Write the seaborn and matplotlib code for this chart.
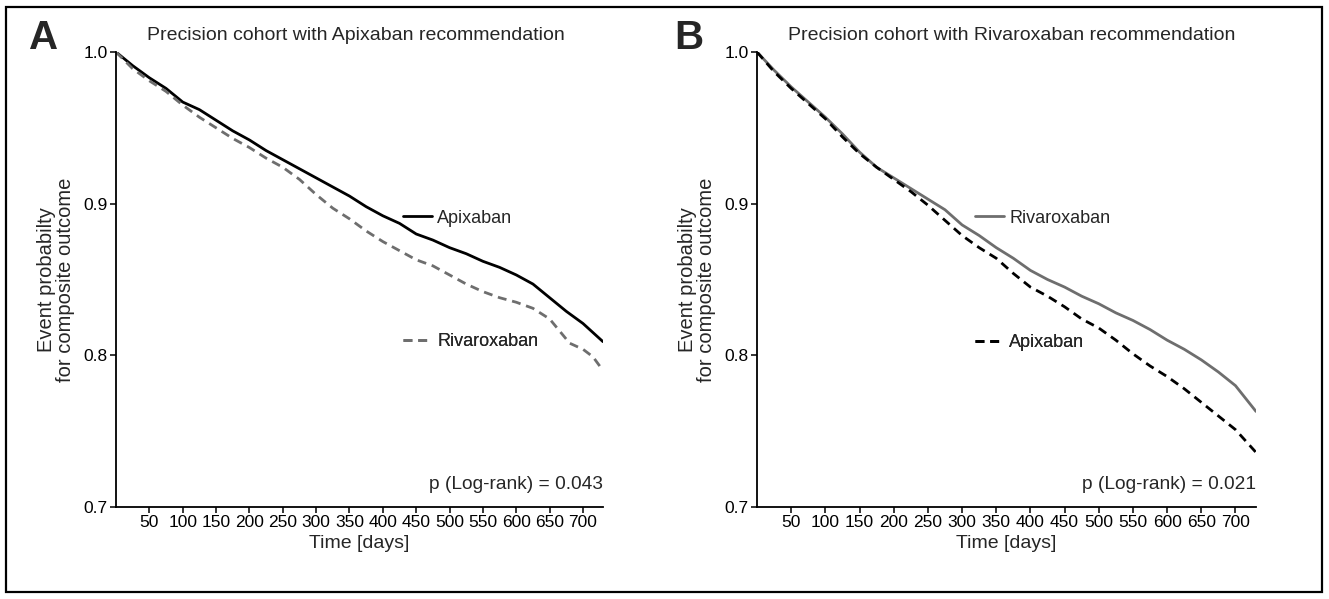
import pandas as pd
import seaborn as sns
import matplotlib.pyplot as plt
from matplotlib.lines import Line2D
from matplotlib.patches import Rectangle

# Kaplan-Meier style curves (days, event-free probability)
days = [0, 25, 50, 75, 100, 125, 150, 175, 200, 225, 250, 275, 300, 325, 350,
        375, 400, 425, 450, 475, 500, 525, 550, 575, 600, 625, 650, 675, 700, 730]

# Panel A: precision cohort with Apixaban recommendation
a_apixaban = [1.000, 0.991, 0.983, 0.976, 0.967, 0.962, 0.955, 0.948, 0.942, 0.935,
              0.929, 0.923, 0.917, 0.911, 0.905, 0.898, 0.892, 0.887, 0.880, 0.876,
              0.871, 0.867, 0.862, 0.858, 0.853, 0.847, 0.838, 0.829, 0.821, 0.809]
a_riva_days = [0, 25, 50, 75, 100, 125, 150, 175, 200, 225, 250, 275, 300, 325, 350,
               375, 400, 425, 450, 475, 500, 525, 550, 575, 600, 625, 650, 665, 680,
               700, 715, 730]
a_rivaroxaban = [1.000, 0.989, 0.981, 0.974, 0.965, 0.957, 0.950, 0.943, 0.937, 0.930,
                 0.924, 0.916, 0.906, 0.897, 0.890, 0.882, 0.875, 0.869, 0.863, 0.859,
                 0.853, 0.847, 0.842, 0.838, 0.835, 0.831, 0.824, 0.816, 0.808, 0.804,
                 0.799, 0.790]

# Panel B: precision cohort with Rivaroxaban recommendation
b_rivaroxaban = [1.000, 0.988, 0.977, 0.967, 0.957, 0.946, 0.934, 0.924, 0.917, 0.910,
                 0.903, 0.896, 0.886, 0.879, 0.871, 0.864, 0.856, 0.850, 0.845, 0.839,
                 0.834, 0.828, 0.823, 0.817, 0.810, 0.804, 0.797, 0.789, 0.780, 0.763]
b_apixaban = [1.000, 0.987, 0.976, 0.966, 0.956, 0.944, 0.933, 0.924, 0.916, 0.908,
              0.899, 0.889, 0.879, 0.871, 0.864, 0.854, 0.845, 0.839, 0.832, 0.824,
              0.818, 0.810, 0.801, 0.793, 0.786, 0.778, 0.769, 0.760, 0.751, 0.736]

x_ticks = list(range(50, 701, 50))
y_ticks = [0.7, 0.8, 0.9, 1.0]
y_ticklabels = ["0.7", "0.8", "0.9", "1.0"]

p_values = ["0.043", "0.021"]
titles = ["Precision cohort with Apixaban recommendation",
          "Precision cohort with Rivaroxaban recommendation"]

sns.set_style("ticks")
plt.rcParams['font.family'] = ['Liberation Sans', 'DejaVu Sans']

BLACK = "#000000"
GREY = "#6e6e6e"
DASH = (3.2, 2.1)

fig = plt.figure(figsize=(13.29, 5.99), dpi=100)
W, H = 1329, 599


def px_axes(x0, x1, y0, y1):
    return fig.add_axes([x0 / W, 1 - y1 / H, (x1 - x0) / W, (y1 - y0) / H])


ax_a = px_axes(116, 603, 52, 507)
ax_b = px_axes(757, 1256, 52, 507)

panels = [
    (ax_a, [("Apixaban", days, a_apixaban, BLACK, ""),
            ("Rivaroxaban", a_riva_days, a_rivaroxaban, GREY, DASH)],
     [(0.589, 0.635), (0.589, 0.363)], 147),
    (ax_b, [("Rivaroxaban", days, b_rivaroxaban, GREY, ""),
            ("Apixaban", days, b_apixaban, BLACK, DASH)],
     [(0.437, 0.635), (0.437, 0.361)], 788),
]

for i, (ax, series, legpos, title_x) in enumerate(panels):
    df = pd.concat([pd.DataFrame({"day": d, "prob": v, "group": name})
                    for name, d, v, _, _ in series])
    sns.lineplot(data=df, x="day", y="prob", hue="group", style="group",
                 palette={s[0]: s[3] for s in series},
                 dashes={s[0]: s[4] for s in series},
                 linewidth=2.0, legend=False, ax=ax)

    ax.set_xlim(0, 730)
    ax.set_ylim(0.7, 1.0)
    ax.set_xticks(x_ticks)
    ax.set_xticklabels([str(t) for t in x_ticks])
    ax.set_yticks(y_ticks)
    ax.set_yticklabels(y_ticklabels)
    ax.tick_params(axis="both", labelsize=12.5, length=4, width=1.1,
                   direction="out", pad=2, colors="black")
    for side in ["top", "right"]:
        ax.spines[side].set_visible(False)
    for side in ["left", "bottom"]:
        ax.spines[side].set_linewidth(1.3)
        ax.spines[side].set_color("black")

    ax.set_xlabel("Time [days]", fontsize=14, labelpad=3)
    ax.set_ylabel("Event probabilty\nfor composite outcome", fontsize=14.5,
                  labelpad=6, linespacing=1.0)

    # inline curve labels
    for (name, _, _, color, dash), (lx, ly) in zip(series, legpos):
        h = Line2D([], [], color=color, lw=2.0,
                   dashes=dash if dash else (None, None))
        leg = ax.legend(handles=[h], labels=[name], loc="center left",
                        bbox_to_anchor=(lx, ly), frameon=False, borderpad=0,
                        borderaxespad=0, handlelength=1.6, handletextpad=0.3,
                        fontsize=13)
        ax.add_artist(leg)

    ax.text(1.0, 0.05, f"p (Log-rank) = {p_values[i]}", transform=ax.transAxes,
            ha="right", va="center", fontsize=13.8)
    fig.text(title_x / W, 1 - 36 / H, titles[i], ha="left", va="center", fontsize=14)

fig.text(29 / W, 1 - 38 / H, "A", fontsize=29, fontweight="bold", va="center", ha="left")
fig.text(674 / W, 1 - 38 / H, "B", fontsize=29, fontweight="bold", va="center", ha="left")

fig.patches.append(Rectangle((6 / W, 7 / H), 1316 / W, 585 / H, transform=fig.transFigure,
                             fill=False, edgecolor="black", linewidth=1.6))

fig.savefig("out.png", dpi=100)
